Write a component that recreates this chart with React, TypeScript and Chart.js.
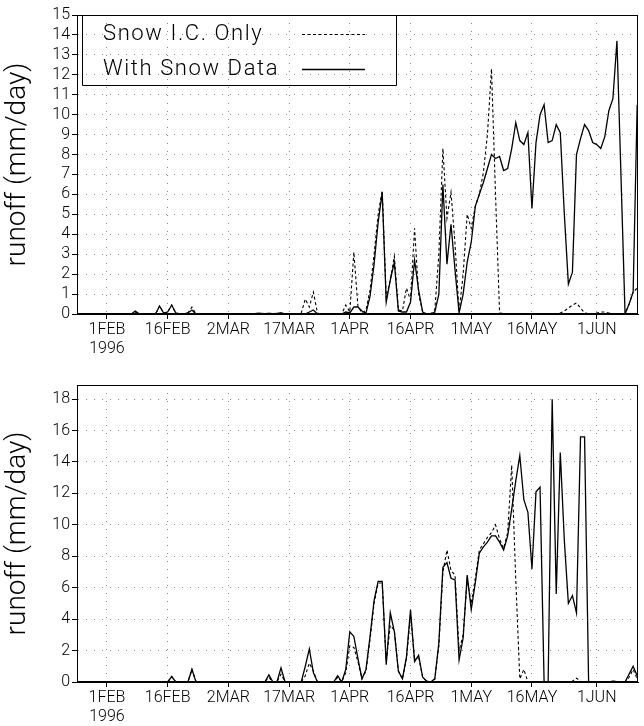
import React, { useEffect, useRef } from "react";
import { Chart, registerables } from "chart.js";

Chart.register(...registerables);

// Day-of-year (1996) of the first daily value in every series
const FIRST_DAY = 24;
const X_MIN = 24.6;
const X_MAX = 163.2;

const tickDays = [32, 47, 62, 77, 92, 107, 122, 137, 153];
const tickLabels: (string | string[])[] = [["1FEB", "1996"], "16FEB", "2MAR", "17MAR", "1APR", "16APR", "1MAY", "16MAY", "1JUN"];
const seriesNames = ["Snow I.C. Only", "With Snow Data"];
const yTitle = "runoff (mm/day)";
const topYTicks = [0, 1, 2, 3, 4, 5, 6, 7, 8, 9, 10, 11, 12, 13, 14, 15];
const botYTicks = [0, 2, 4, 6, 8, 10, 12, 14, 16, 18];

// Upper panel
const topSnowIC = [
  0, 0, 0, 0, 0, 0, 0, 0, 0, 0,
  0, 0, 0, 0, 0, 0.1, 0, 0, 0, 0,
  0, 0.4, 0.05, 0.1, 0.45, 0.05, 0, 0, 0.05, 0.35,
  0, 0, 0, 0, 0, 0, 0, 0, 0, 0,
  0, 0, 0, 0, 0, 0.03, 0.03, 0.02, 0.03, 0.02,
  0.03, 0.05, 0, 0, 0, 0, 0.05, 0.75, 0.35, 1.1,
  0.05, 0, 0, 0, 0, 0, 0, 0.45, 0.1, 3.1,
  0.4, 0.05, 0.2, 1.2, 3.0, 5.0, 6.2, 0.8, 1.7, 2.9,
  0.2, 0.15, 1.3, 0.7, 4.3, 1.0, 0.1, 0, 0, 0.2,
  3.0, 8.3, 4.8, 6.1, 3.5, 0.1, 2.0, 5.0, 4.3, 5.4,
  6.0, 7.1, 9.0, 12.3, 6.0, 0.05, 0.02, 0.02, 0.02, 0.02,
  0.02, 0.02, 0.02, 0.02, 0.02, 0.02, 0.02, 0.02, 0.02, 0.02,
  0.05, 0.15, 0.3, 0.45, 0.55, 0.3, 0.05, 0.02, 0.02, 0.05,
  0.1, 0.1, 0.05, 0.02, 0, 0, 0, 0.5, 1.1, 1.3,
];
const topWithSnow = [
  0, 0, 0, 0, 0, 0, 0, 0, 0, 0,
  0, 0, 0, 0, 0, 0.15, 0, 0, 0, 0,
  0, 0.4, 0.05, 0.1, 0.45, 0.05, 0, 0, 0.05, 0.2,
  0, 0, 0, 0, 0, 0, 0, 0, 0, 0,
  0, 0, 0, 0, 0, 0.03, 0.03, 0.02, 0.03, 0.02,
  0.03, 0.05, 0, 0, 0, 0, 0, 0, 0.1, 0.2,
  0, 0, 0, 0, 0, 0, 0, 0.1, 0.05, 0.35,
  0.35, 0.15, 0.05, 0.9, 2.5, 4.6, 6.1, 0.6, 1.7, 2.6,
  0.15, 0.1, 0.1, 0.6, 2.7, 1.2, 0.1, 0, 0, 0.1,
  1.0, 6.5, 2.5, 4.5, 2.2, 0.05, 1.0, 2.6, 3.6, 5.4,
  6.0, 6.6, 7.3, 8.0, 7.8, 7.9, 7.2, 7.3, 8.3, 9.6,
  8.7, 8.5, 9.1, 5.3, 8.6, 10.0, 10.5, 8.6, 8.7, 9.5,
  9.1, 5.0, 1.5, 2.1, 8.0, 8.8, 9.5, 9.2, 8.6, 8.5,
  8.3, 8.9, 10.2, 10.8, 13.7, 6.9, 0, 0.5, 1.1, 10.5,
];

// Lower panel
const botSnowIC = [
  0, 0, 0, 0, 0, 0, 0, 0, 0, 0,
  0, 0, 0, 0, 0, 0, 0, 0, 0, 0,
  0, 0, 0, 0, 0.35, 0, 0, 0, 0, 0.8,
  0.03, 0.03, 0.03, 0.03, 0.03, 0.03, 0.03, 0.03, 0.03, 0.03,
  0.03, 0.03, 0.03, 0.03, 0.03, 0.03, 0.02, 0.02, 0.3, 0,
  0, 0.5, 0, 0, 0, 0, 0, 0.4, 1.2, 0.7,
  0, 0, 0, 0, 0, 0.3, 0, 0.6, 2.3, 2.2,
  1.3, 0.2, 0.7, 2.7, 5.0, 6.3, 6.3, 1.3, 3.6, 3.3,
  0.7, 0.2, 1.5, 4.3, 1.4, 1.6, 0.3, 0.05, 0, 0.2,
  2.3, 7.0, 8.4, 7.1, 6.8, 2.0, 3.0, 6.5, 5.0, 6.6,
  8.4, 8.8, 9.2, 9.5, 10.0, 9.1, 8.5, 9.5, 13.8, 6.5,
  0.2, 0.8, 0, 0, 0, 0, 0, 0, 0, 0,
  0, 0, 0, 0.05, 0.25, 0.05, 0, 0, 0, 0,
  0, 0, 0, 0.05, 0.02, 0, 0, 0.3, 0.8, 0.2,
];
const botWithSnow = [
  0, 0, 0, 0, 0, 0, 0, 0, 0, 0,
  0, 0, 0, 0, 0, 0, 0, 0, 0, 0,
  0, 0, 0, 0, 0.35, 0, 0, 0, 0, 0.8,
  0, 0, 0, 0, 0, 0, 0, 0, 0, 0,
  0, 0, 0, 0, 0, 0, 0, 0, 0.45, 0,
  0, 0.9, 0, 0, 0, 0, 0, 1.0, 2.1, 0.6,
  0, 0, 0, 0, 0, 0.4, 0, 0.8, 3.2, 2.9,
  1.5, 0.2, 0.8, 2.9, 5.2, 6.4, 6.4, 1.1, 4.4, 3.2,
  0.7, 0.2, 1.6, 4.6, 1.3, 1.7, 0.3, 0.05, 0, 0.2,
  2.5, 7.3, 7.6, 6.6, 6.5, 1.4, 2.8, 6.8, 4.6, 6.3,
  8.2, 8.6, 8.9, 9.3, 9.3, 8.9, 8.4, 9.3, 11.0, 12.8,
  14.4, 11.6, 10.8, 7.2, 12.1, 12.4, 0, 0, 18.0, 5.6,
  14.6, 9.0, 5.0, 5.5, 4.4, 15.6, 15.6, 0, 0, 0,
  0, 0, 0, 0.05, 0.02, 0, 0, 0.5, 1.0, 0.4,
];

const FONT = "Roboto, 'DejaVu Sans', sans-serif";
const WEIGHT = 300;

const framePlugin = {
  id: "frame",
  afterDraw(chart: any, _args: any, opts: any) {
    const { ctx, chartArea: a } = chart;
    ctx.save();
    ctx.strokeStyle = "#000";
    ctx.lineWidth = 1;
    ctx.setLineDash([]);
    ctx.strokeRect(Math.round(a.left) + 0.5, Math.round(a.top) + 0.5, Math.round(a.right - a.left) - 1, Math.round(a.bottom - a.top) - 1);
    if (opts && opts.legend) {
      const bx0 = a.left + 5.5;
      const bx1 = 396.5;
      const by0 = a.top + 0.5;
      const by1 = 85.5;
      ctx.beginPath();
      ctx.moveTo(bx0, by0);
      ctx.lineTo(bx0, by1);
      ctx.lineTo(bx1, by1);
      ctx.lineTo(bx1, by0);
      ctx.stroke();
      ctx.fillStyle = "#000";
      ctx.font = `${WEIGHT} 22px ${FONT}`;
      try { (ctx as any).letterSpacing = "1.6px"; } catch (e) {}
      ctx.textBaseline = "middle";
      ctx.textAlign = "left";
      const rows = [34, 69];
      chart.data.datasets.forEach((ds: any, i: number) => {
        ctx.fillText(ds.label, 103, rows[i]);
        ctx.beginPath();
        ctx.setLineDash(ds.borderDash || []);
        ctx.lineWidth = ds.borderWidth;
        ctx.moveTo(302, rows[i] + 0.5);
        ctx.lineTo(365, rows[i] + 0.5);
        ctx.stroke();
        ctx.setLineDash([]);
      });
      try { (ctx as any).letterSpacing = "0px"; } catch (e) {}
    }
    ctx.restore();
  },
};

function makeConfig(snowIC: number[], withSnow: number[], yMax: number, yTicks: number[], legend: boolean, padTop: number, xAxisH: number): any {
  const pts = (arr: number[]) => arr.map((v, i) => ({ x: FIRST_DAY + i, y: v }));
  return {
    type: "line",
    data: {
      datasets: [
        { label: seriesNames[0], data: pts(snowIC), borderColor: "#000", borderWidth: 1.1, borderDash: [3, 2.5], pointRadius: 0, tension: 0, fill: false },
        { label: seriesNames[1], data: pts(withSnow), borderColor: "#000", borderWidth: 1.3, pointRadius: 0, tension: 0, fill: false },
      ],
    },
    options: {
      animation: false,
      responsive: false,
      maintainAspectRatio: false,
      events: [],
      layout: { padding: { top: padTop, right: 6, left: 0, bottom: 0 } },
      plugins: { legend: { display: false }, tooltip: { enabled: false }, frame: { legend } },
      scales: {
        x: {
          type: "linear",
          min: X_MIN,
          max: X_MAX,
          afterBuildTicks: (s: any) => { s.ticks = tickDays.map((v) => ({ value: v })); },
          afterFit: (s: any) => { s.height = xAxisH; },
          ticks: {
            autoSkip: false,
            maxRotation: 0,
            color: "#000",
            padding: 2,
            font: { family: FONT, size: 16, weight: WEIGHT, lineHeight: 1.15 },
            callback: (v: number) => { const i = tickDays.indexOf(v); return i >= 0 ? tickLabels[i] : ""; },
          },
          grid: { color: "#8c8c8c", lineWidth: 1, tickColor: "#000", tickLength: 5, tickBorderDash: [] },
          border: { color: "#000", width: 1, dash: [1, 7] },
        },
        y: {
          min: 0,
          max: yMax,
          afterBuildTicks: (s: any) => { s.ticks = yTicks.map((v) => ({ value: v })); },
          afterFit: (s: any) => { s.width = 77; },
          ticks: { autoSkip: false, color: "#000", padding: 2, font: { family: FONT, size: 16, weight: WEIGHT } },
          grid: { color: "#8c8c8c", lineWidth: 1, tickColor: "#000", tickLength: 5, tickBorderDash: [] },
          border: { color: "#000", width: 1, dash: [1, 7] },
          title: { display: true, text: yTitle, color: "#000", font: { family: FONT, size: 28, weight: WEIGHT }, padding: { top: 1, bottom: 0 } },
        },
      },
    },
    plugins: [framePlugin],
  };
}

function Panel({ top, cfg }: { top: number; cfg: () => any }) {
  const ref = useRef<HTMLCanvasElement | null>(null);
  useEffect(() => {
    if (!ref.current) return;
    const chart = new Chart(ref.current, cfg());
    return () => chart.destroy();
  }, []);
  return <canvas ref={ref} width={644} height={363} style={{ position: "absolute", left: 0, top, width: 644, height: 363 }} />;
}

export default function App() {
  return (
    <div style={{ position: "absolute", left: 0, top: 0, width: 644, height: 726, background: "#fff" }}>
      <Panel top={0} cfg={() => makeConfig(topSnowIC, topWithSnow, 15, topYTicks, true, 15, 49)} />
      <Panel top={363} cfg={() => makeConfig(botSnowIC, botWithSnow, 18.9, botYTicks, false, 22, 44)} />
    </div>
  );
}
